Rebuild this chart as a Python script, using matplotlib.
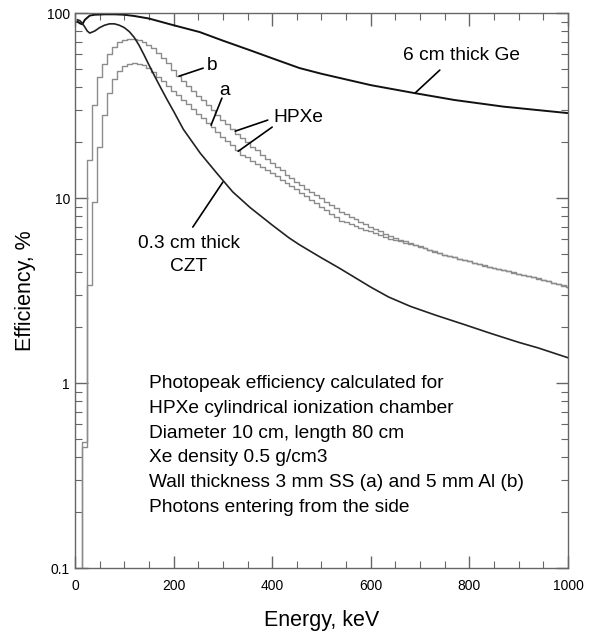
import numpy as np
import matplotlib.pyplot as plt

plt.rcParams["font.family"] = ["Liberation Sans", "DejaVu Sans"]

# HPXe chamber, 10 keV bins (bin centres), efficiency in %
hpxe_energy = np.arange(10, 1001, 10)
hpxe_b = [
    0.05, 0.48, 16, 31.8, 45, 53, 60, 65.5, 69.5, 71.5,
    72.3, 72.3, 71.5, 69.8, 67.5, 64.5, 61.2, 57.5, 53.5, 49.3,
    45.5, 42.9, 40.4, 38.0, 35.8, 33.7, 31.8, 29.9, 28.2, 26.5,
    25.0, 23.5, 22.1, 21.0, 20.0, 19.0, 18.1, 17.2, 16.3, 15.5,
    14.8, 14.1, 13.4, 12.8, 12.2, 11.7, 11.2, 10.8, 10.35, 9.95,
    9.55, 9.15, 8.8, 8.45, 8.2, 7.95, 7.7, 7.45, 7.25, 7.0,
    6.8, 6.6, 6.4, 6.2, 6.08, 5.95, 5.83, 5.71, 5.6, 5.48,
    5.37, 5.26, 5.16, 5.03, 4.95, 4.87, 4.79, 4.71, 4.63, 4.56,
    4.48, 4.41, 4.33, 4.25, 4.19, 4.13, 4.07, 4.02, 3.96, 3.9,
    3.85, 3.79, 3.74, 3.68, 3.62, 3.55, 3.49, 3.43, 3.37, 3.31,
]
hpxe_a = [
    0.05, 0.45, 3.4, 9.5, 18.9, 28, 37, 44, 48.5, 51.5,
    53, 53.6, 53.3, 52.2, 50.4, 48, 45.3, 42.8, 40.4, 38.1,
    36.0, 34.0, 32.1, 30.3, 28.6, 27.0, 25.5, 24.1, 22.8, 21.5,
    20.4, 19.3, 18.2, 17.2, 16.6, 15.9, 15.3, 14.7, 14.1, 13.6,
    13.1, 12.6, 12.1, 11.6, 11.2, 10.7, 10.25, 9.8, 9.4, 9.0,
    8.6, 8.25, 7.9, 7.55, 7.4, 7.23, 7.07, 6.91, 6.76, 6.61,
    6.46, 6.32, 6.18, 6.04, 5.93, 5.84, 5.75, 5.66, 5.56, 5.45,
    5.35, 5.24, 5.14, 5.02, 4.94, 4.85, 4.78, 4.7, 4.62, 4.55,
    4.47, 4.4, 4.32, 4.24, 4.18, 4.12, 4.06, 4.01, 3.95, 3.89,
    3.84, 3.78, 3.73, 3.67, 3.61, 3.54, 3.48, 3.42, 3.36, 3.3,
]

# 6 cm thick Ge
ge_energy = [5, 10, 15, 20, 30, 40, 60, 80, 100, 120, 150, 200, 253, 300,
             355, 400, 455, 500, 600, 685, 770, 870, 1000]
ge_eff = [90, 88, 87, 92, 97, 98, 98.5, 98.5, 98, 96.5, 93.5, 86, 79, 71,
          63, 57, 50.5, 47, 40.8, 37.1, 33.9, 31.2, 28.8]

# 0.3 cm thick CZT
czt_energy = [5, 10, 15, 20, 25, 30, 40, 50, 60, 70, 80, 90, 100, 110, 120,
              130, 140, 150, 160, 175, 187, 200, 220, 254, 288, 320, 355,
              400, 434, 455, 500, 535, 600, 636, 680, 731, 790, 842, 900,
              939, 1000]
czt_eff = [92, 91, 88, 84, 80, 78, 80, 83.5, 86, 87.5, 87.5, 86, 83.5, 79.5,
           74, 67, 59.5, 52.5, 46.5, 39, 34, 29.5, 23.5, 17.5, 13.6, 10.8,
           8.9, 7.15, 6.1, 5.6, 4.75, 4.2, 3.3, 2.92, 2.6, 2.33, 2.07, 1.86,
           1.66, 1.55, 1.37]

x_ticks = [0, 200, 400, 600, 800, 1000]
y_ticks = [0.1, 1, 10, 100]
y_ticklabels = ["0.1", "1", "10", "100"]

note = ("Photopeak efficiency calculated for\n"
        "HPXe cylindrical ionization chamber\n"
        "Diameter 10 cm, length 80 cm\n"
        "Xe density 0.5 g/cm3\n"
        "Wall thickness 3 mm SS (a) and 5 mm Al (b)\n"
        "Photons entering from the side")

fig = plt.figure(figsize=(5.89, 6.4), dpi=100)
ax = fig.add_axes([0.1273, 0.1125, 0.837, 0.867])

grey = "#8c8c8c"
ax.plot(hpxe_energy, hpxe_b, drawstyle="steps-mid", color=grey, lw=1.0)
ax.plot(hpxe_energy, hpxe_a, drawstyle="steps-mid", color=grey, lw=1.0)
ax.plot(ge_energy, ge_eff, color="#111111", lw=1.4)
ax.plot(czt_energy, czt_eff, color="#222222", lw=1.2)

ax.set_yscale("log")
ax.set_xlim(0, 1000)
ax.set_ylim(0.1, 100)
ax.set_xticks(x_ticks)
ax.set_xticks(np.arange(0, 1001, 50), minor=True)
ax.set_yticks(y_ticks)
ax.set_yticklabels(y_ticklabels)
ax.tick_params(which="both", direction="in", top=True, right=True,
               color="#666666", labelsize=10)
ax.tick_params(which="major", length=9, width=1)
ax.tick_params(which="minor", length=5, width=0.8)
ax.tick_params(axis="x", pad=8)
for s in ax.spines.values():
    s.set_color("#666666")
    s.set_linewidth(1.0)

ax.set_xlabel("Energy, keV", fontsize=15.5, labelpad=12)
ax.set_ylabel("Efficiency, %", fontsize=15.5, labelpad=8)

fs = 13.8
lp = dict(arrowstyle="-", color="black", lw=1.2, shrinkA=0, shrinkB=0)
ax.text(785, 59.3, "6 cm thick Ge", fontsize=fs, ha="center", va="center")
ax.annotate("", xy=(690, 37.0), xytext=(740, 49.2), arrowprops=lp)
ax.text(278, 52.4, "b", fontsize=fs, ha="center", va="center")
ax.annotate("", xy=(211, 45.6), xytext=(260, 50.4), arrowprops=lp)
ax.text(304, 38.4, "a", fontsize=fs, ha="center", va="center")
ax.annotate("", xy=(276, 24.8), xytext=(298, 34.7), arrowprops=lp)
ax.text(454, 27.1, "HPXe", fontsize=fs, ha="center", va="center")
ax.annotate("", xy=(325, 23.0), xytext=(391, 26.4), arrowprops=lp)
ax.annotate("", xy=(331, 17.9), xytext=(400, 24.2), arrowprops=lp)
ax.text(231, 4.92, "0.3 cm thick\nCZT", fontsize=fs, ha="center",
        va="center", linespacing=1.4)
ax.annotate("", xy=(300, 12.2), xytext=(239, 6.97), arrowprops=lp)

ax.text(150, 0.459, note, fontsize=fs, ha="left", va="center",
        linespacing=1.6)

fig.savefig("out.png", dpi=100)
